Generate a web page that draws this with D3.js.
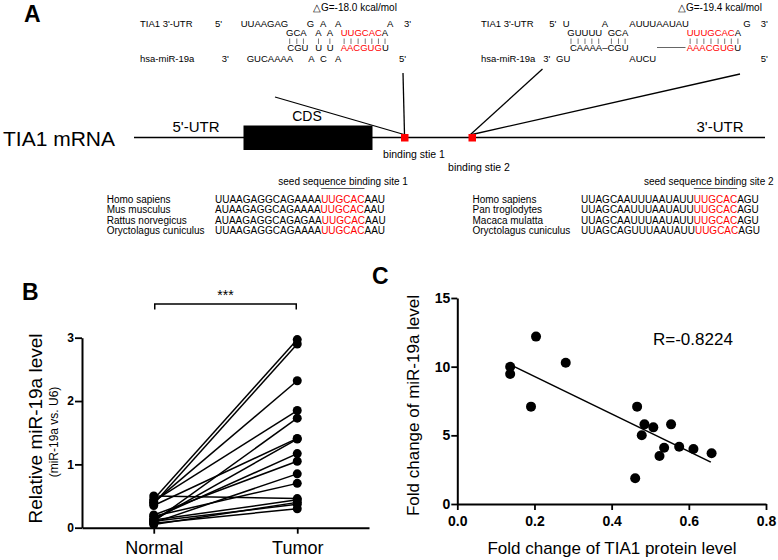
<!DOCTYPE html>
<html><head><meta charset="utf-8">
<script src="https://cdn.jsdelivr.net/npm/d3@7"></script>
<style>
html,body{margin:0;padding:0;background:#fff;}
svg{display:block;font-family:"Liberation Sans",Arial,sans-serif;}
</style></head>
<body>
<svg id="fig" width="778" height="560"></svg>
<script>
// ---------------- DATA ----------------
// Panel A: hybrid diagrams (text content)
const hyb1Row1 = ["TIA1 3'-UTR","5'","UUAAGAG","G","A","A","A","3'"];
const hyb1Row2 = [["GCA",""],["A",""],["A",""],["A","UUGCAC"]]; // [black suffix, red prefix]
const hyb1Row4 = [["CGU",""],["U",""],["U",""],["U","AACGUG"]];
const hyb1Row5 = ["hsa-miR-19a","3'","GUCAAAA","A","C","A","5'"];
const hyb1DG = "△G=-18.0 kcal/mol";

const hyb2Row1 = ["TIA1 3'-UTR","5'","U","A","AUUUAAUAU","G","3'"];
const hyb2Row2 = [["GUUUU",""],["GCA",""],["A","UUUGCAC"]];
const hyb2Row4 = [["CAAAA–CGU",""],["U","AAACGUG"]];
const hyb2Row5 = ["hsa-miR-19a","3'","GU","AUCU","5'"];
const hyb2DG = "△G=-19.4 kcal/mol";

const mrnaLabels = ["TIA1 mRNA","5'-UTR","CDS","3'-UTR","binding stie 1","binding stie 2"];

const seedTitle1 = "seed sequence binding site 1";
const species1 = ["Homo sapiens","Mus musculus","Rattus norvegicus","Oryctolagus cuniculus"];
const seqPre1  = ["UUAAGAGGCAGAAAA","AUAAGAGGCAGAAAA","AUAAGAGGCAGAGAA","UUAAGAGGCAGAAAA"];
const seqSeed1 = ["UUGCAC","UUGCAC","UUGCAC","UUGCAC"];
const seqPost1 = ["AAU","AAU","AAU","AAU"];

const seedTitle2 = "seed sequence binding site 2";
const species2 = ["Homo sapiens","Pan troglodytes","Macaca mulatta","Oryctolagus cuniculus"];
const seqPre2  = ["UUAGCAAUUUAAUAUU","UUAGCAAUUUAAUAUU","UUAGCAAUUUAAUAUU","UUAGCAGUUUAAUAUU"];
const seqSeed2 = ["UUGCAC","UUGCAC","UUGCAC","UUGCAC"];
const seqPost2 = ["AGU","AGU","AGU","AGU"];

// Panel B: paired miR-19a levels
const groupsB  = ["Normal","Tumor"];
const normalB  = [0.45,0.38,0.40,0.42,0.10,0.35,0.12,0.15,0.20,0.08,0.18,0.50,0.12,0.05,0.10,0.07];
const tumorB   = [2.97,2.90,2.32,1.85,1.73,1.41,1.40,1.17,1.05,0.85,0.70,0.46,0.44,0.40,0.37,0.30];
const ticksB   = [0,1,2,3];
const sigLabel = "***";

// Panel C: correlation
const tiaC = [0.137,0.137,0.204,0.281,0.191,0.466,0.485,0.508,0.554,0.478,0.536,0.575,0.612,0.659,0.524,0.461];
const mirC = [10.0,9.47,12.19,10.29,7.09,7.09,5.80,5.58,5.80,5.00,4.10,4.17,4.00,3.69,3.50,1.87];
const fitX = [0.137,0.657];
const fitY = [10.15,3.05];
const ticksCx = [0,0.2,0.4,0.6,0.8];
const ticksCy = [0,5,10,15];
const rLabel = "R=-0.8224";

// ---------------- DRAW ----------------
const svg = d3.select("#fig");
const F = '"Liberation Sans",Arial,sans-serif';
const RED = "#ff0000";

function txt(g, x, y, s, size, opts={}) {
  const t = g.append("text").attr("x", x).attr("y", y).attr("font-size", size)
    .attr("fill", opts.fill || "#000").attr("font-family", F).text(s);
  if (opts.weight) t.attr("font-weight", opts.weight);
  if (opts.anchor) t.attr("text-anchor", opts.anchor);
  return t;
}
function redBlack(g, x, y, red, black, size) {
  const t = g.append("text").attr("x", x).attr("y", y).attr("font-size", size).attr("font-family", F);
  if (red) t.append("tspan").attr("fill", RED).text(red);
  if (black) t.append("tspan").attr("fill", "#000").text(black);
  return t;
}

// Panel labels
txt(svg, 24, 22, "A", 23, {weight:"bold"});
txt(svg, 22, 300, "B", 23, {weight:"bold"});
txt(svg, 372, 284, "C", 23, {weight:"bold"});

// ---- Panel A hybrids
const gA = svg.append("g");
const HS = 9.5;
function pipes(textNode, yTop, yBot) {
  const n = textNode.getNumberOfChars();
  const s = textNode.textContent;
  for (let i = 0; i < n; i++) {
    if (s[i] === " " || s[i] === "–") continue;
    const e = textNode.getExtentOfChar(i);
    const cx = e.x + e.width / 2;
    gA.append("line").attr("x1", cx).attr("x2", cx).attr("y1", yTop).attr("y2", yBot)
      .attr("stroke", "#555").attr("stroke-width", 0.8);
  }
}
// hybrid 1
txt(gA, 313, 11, hyb1DG, 10);
const h1r1x = [140,215,240.7,306.7,320,335,387,404];
hyb1Row1.forEach((s,i)=>txt(gA, h1r1x[i], 27, s, HS));
const h1r2x = [286,315.3,326.7,340.7];
hyb1Row2.forEach((p,i)=>{ const t = redBlack(gA, h1r2x[i], 36, p[1], p[0], HS); pipes(t.node(), 38.5, 44); });
const h1r4x = [287.3,315.3,326.7,340.7];
hyb1Row4.forEach((p,i)=>redBlack(gA, h1r4x[i], 51, p[1], p[0], HS));
const h1r5x = [140,221.7,246.7,308.3,320,335,399];
hyb1Row5.forEach((s,i)=>txt(gA, h1r5x[i], 62, s, HS));

// hybrid 2
txt(gA, 678, 11, hyb2DG, 10);
const h2r1x = [481,549.3,562.7,601.7,629.3,743.3,760.7];
hyb2Row1.forEach((s,i)=>txt(gA, h2r1x[i], 27, s, HS));
const h2r2x = [567.3,607.7,686.7];
hyb2Row2.forEach((p,i)=>{ const t = redBlack(gA, h2r2x[i], 36, p[1], p[0], HS); pipes(t.node(), 38.5, 44); });
const h2r4x = [570,686.7];
hyb2Row4.forEach((p,i)=>redBlack(gA, h2r4x[i], 51, p[1], p[0], HS));
gA.append("line").attr("x1",657).attr("x2",685.5).attr("y1",47.5).attr("y2",47.5).attr("stroke","#555").attr("stroke-width",0.9);
const h2r5x = [481,543.3,556,629.3,760.7];
hyb2Row5.forEach((s,i)=>txt(gA, h2r5x[i], 62, s, HS));

// mRNA schematic
gA.append("line").attr("x1",134).attr("x2",765).attr("y1",137.5).attr("y2",137.5).attr("stroke","#000").attr("stroke-width",1.3);
gA.append("rect").attr("x",243.5).attr("y",125.5).attr("width",129).attr("height",24.5).attr("fill","#000");
txt(gA, 3, 146, mrnaLabels[0], 21);
txt(gA, 196, 131.5, mrnaLabels[1], 15, {anchor:"middle"});
txt(gA, 307, 120.5, mrnaLabels[2], 14, {anchor:"middle"});
txt(gA, 720, 131.5, mrnaLabels[3], 15, {anchor:"middle"});
txt(gA, 414, 157.5, mrnaLabels[4], 10.5, {anchor:"middle"});
txt(gA, 479, 171, mrnaLabels[5], 10.5, {anchor:"middle"});
// connector lines
[[275,97,404,134.5],[403,73,404.5,134.5],[542.5,69,470.5,134.5],[740,74,472,134.5]].forEach(l=>{
  gA.append("line").attr("x1",l[0]).attr("y1",l[1]).attr("x2",l[2]).attr("y2",l[3]).attr("stroke","#000").attr("stroke-width",1.3);
});
gA.append("rect").attr("x",401).attr("y",134).attr("width",7.5).attr("height",7.5).attr("fill",RED);
gA.append("rect").attr("x",468.5).attr("y",134).attr("width",7.5).attr("height",7.5).attr("fill",RED);

// alignment tables
const rowY = [202.5,213,223.8,234.3];
function table(title, titleX, spX, sqX, species, pre, seed, post) {
  txt(gA, titleX, 185, title, 10);
  let seedExt = null;
  species.forEach((s,i)=>{
    txt(gA, spX, rowY[i], s, 10);
    const t = gA.append("text").attr("x", sqX).attr("y", rowY[i]).attr("font-size",10).attr("font-family",F);
    t.append("tspan").attr("fill","#000").text(pre[i]);
    t.append("tspan").attr("fill",RED).text(seed[i]);
    t.append("tspan").attr("fill","#000").text(post[i]);
    if (i === 0) {
      const node = t.node();
      const a = node.getStartPositionOfChar(pre[i].length).x;
      const b = node.getEndPositionOfChar(pre[i].length + seed[i].length - 1).x;
      seedExt = [a,b];
    }
  });
  gA.append("line").attr("x1",seedExt[0]).attr("x2",seedExt[1]).attr("y1",188.5).attr("y2",188.5)
    .attr("stroke","#444").attr("stroke-width",0.9);
}
table(seedTitle1, 278.3, 106.7, 215, species1, seqPre1, seqSeed1, seqPost1);
table(seedTitle2, 644, 472.5, 581, species2, seqPre2, seqSeed2, seqPost2);

// ---- Panel B
const gB = svg.append("g");
const xB = d3.scalePoint().domain(groupsB).range([82,369]).padding(0.5);
const yB = d3.scaleLinear().domain([0,3]).range([527.7,337.7]);
const axB = gB.append("g").attr("transform","translate(82,0)")
  .call(d3.axisLeft(yB).tickValues(ticksB).tickSize(7).tickSizeOuter(0).tickPadding(1).tickFormat(d3.format("d")));
axB.selectAll("text").attr("font-size",12).attr("font-weight","bold").attr("font-family",F).attr("fill","#000");
const axBx = gB.append("g").attr("transform","translate(0,527.7)")
  .call(d3.axisBottom(xB).tickSize(6).tickSizeOuter(0).tickPadding(8));
axBx.selectAll("text").attr("font-size",18).attr("font-family",F).attr("fill","#000");
[axB, axBx].forEach(a=>{ a.select(".domain").attr("stroke","#000").attr("stroke-width",2); a.selectAll(".tick line").attr("stroke","#000").attr("stroke-width",1.8); });
normalB.forEach((n,i)=>{
  gB.append("line").attr("x1",xB("Normal")).attr("y1",yB(n)).attr("x2",xB("Tumor")).attr("y2",yB(tumorB[i]))
    .attr("stroke","#000").attr("stroke-width",1.5);
});
gB.selectAll("circle.n").data(normalB).join("circle").attr("cx",xB("Normal")).attr("cy",d=>yB(d)).attr("r",4.5).attr("fill","#000");
gB.selectAll("circle.t").data(tumorB).join("circle").attr("cx",xB("Tumor")).attr("cy",d=>yB(d)).attr("r",4.5).attr("fill","#000");
// significance bracket
const bx1 = xB("Normal")+1, bx2 = xB("Tumor")-1;
gB.append("path").attr("d",`M${bx1},309.5V304H${bx2}V309.5`).attr("fill","none").attr("stroke","#000").attr("stroke-width",1.5);
txt(gB, (bx1+bx2)/2, 300, sigLabel, 14, {anchor:"middle"});
// y labels
gB.append("text").attr("transform","translate(42,428.5) rotate(-90)").attr("text-anchor","middle")
  .attr("font-size",19).attr("font-family",F).text("Relative miR-19a level");
gB.append("text").attr("transform","translate(58,432) rotate(-90)").attr("text-anchor","middle")
  .attr("font-size",12).attr("font-family",F).text("(miR-19a vs. U6)");

// ---- Panel C
const gC = svg.append("g");
const xC = d3.scaleLinear().domain([0,0.8]).range([457.3,766]);
const yC = d3.scaleLinear().domain([0,15]).range([504,298]);
const axCx = gC.append("g").attr("transform","translate(0,504)")
  .call(d3.axisBottom(xC).tickValues(ticksCx).tickSize(6).tickSizeOuter(0).tickPadding(6).tickFormat(d3.format(".1f")));
const axCy = gC.append("g").attr("transform","translate(457.3,0)")
  .call(d3.axisLeft(yC).tickValues(ticksCy).tickSize(6).tickSizeOuter(0).tickPadding(1).tickFormat(d3.format("d")));
[axCx, axCy].forEach(a=>{
  a.select(".domain").attr("stroke","#000").attr("stroke-width",2);
  a.selectAll(".tick line").attr("stroke","#000").attr("stroke-width",1.8);
  a.selectAll("text").attr("font-size",14).attr("font-weight","bold").attr("font-family",F).attr("fill","#000");
});
gC.append("line").attr("x1",xC(fitX[0])).attr("y1",yC(fitY[0])).attr("x2",xC(fitX[1])).attr("y2",yC(fitY[1]))
  .attr("stroke","#000").attr("stroke-width",1.6);
gC.selectAll("circle").data(tiaC.map((x,i)=>[x,mirC[i]])).join("circle")
  .attr("cx",d=>xC(d[0])).attr("cy",d=>yC(d[1])).attr("r",5).attr("fill","#000");
txt(gC, 653, 345, rLabel, 17);
gC.append("text").attr("transform","translate(419,405.5) rotate(-90)").attr("text-anchor","middle")
  .attr("font-size",17).attr("font-family",F).text("Fold change of miR-19a level");
txt(gC, 612, 554, "Fold change of TIA1 protein level", 17, {anchor:"middle"});
</script>
</body></html>
